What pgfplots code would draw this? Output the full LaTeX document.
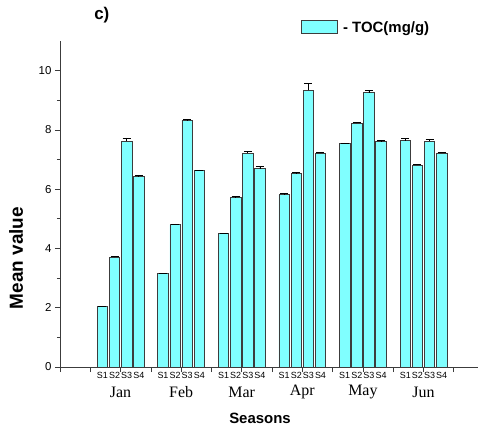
\documentclass[border=0pt]{standalone}
\usepackage{pgfplots}
\pgfplotsset{compat=1.18}
\usepackage{pgfplotstable}
\usepackage{fontspec}
\setmainfont{Liberation Sans}
\newfontfamily\timesf{Liberation Serif}
\definecolor{barcyan}{RGB}{128,255,255}
\definecolor{edgegray}{RGB}{60,60,60}

% x = month*5 + site, y = mean TOC, e = error
\pgfplotstableread{
x  y     e
0  2.03  0.03
1  3.70  0.04
2  7.61  0.12
3  6.42  0.03
5  3.15  0.02
6  4.80  0.03
7  8.33  0.02
8  6.62  0.03
10 4.50  0.02
11 5.72  0.03
12 7.22  0.05
13 6.69  0.09
15 5.81  0.04
16 6.52  0.04
17 9.33  0.25
18 7.22  0.03
20 7.53  0.03
21 8.22  0.03
22 9.26  0.07
23 7.61  0.03
25 7.64  0.08
26 6.81  0.03
27 7.61  0.06
28 7.22  0.03
}\toc

\begin{document}
\begin{tikzpicture}
\useasboundingbox (-60bp,-62bp) rectangle (420bp,367bp);
\begin{axis}[
  scale only axis,
  width=418bp, height=326bp,
  xmin=-3.5, xmax=31, ymin=0, ymax=11,
  axis lines=left,
  axis line style={-, edgegray, line width=0.8pt},
  tick style={edgegray, line width=0.7pt},
  tick align=outside,
  ytick={0,2,...,10},
  minor ytick={1,3,...,9},
  major tick length=5bp, minor tick length=3bp,
  xtick={0,1,2,3,5,6,7,8,10,11,12,13,15,16,17,18,20,21,22,23,25,26,27,28},
  xticklabels={S1,S2,S3,S4,S1,S2,S3,S4,S1,S2,S3,S4,S1,S2,S3,S4,S1,S2,S3,S4,S1,S2,S3,S4},
  xtick style={draw=none},
  xticklabel style={font=\fontsize{9}{9}\selectfont, anchor=center, yshift=-3bp},
  extra x ticks={-3.5,-1,...,29},
  extra x tick labels={,,Jan,,Feb,,Mar,,Apr,,May,,Jun,,},
  extra x tick style={xtick style={draw=edgegray},
    xticklabel style={font=\timesf\fontsize{16}{16}\selectfont, yshift=-17bp}},
  yticklabel style={font=\fontsize{11.5}{12}\selectfont},
  /pgf/number format/assume math mode=true,
  xlabel={\textbf{Seasons}},
  xlabel style={font=\fontsize{15}{15}\selectfont, at={(axis description cs:0.4785,-0.156)}, anchor=center},
  ylabel={\textbf{Mean value}},
  ylabel style={font=\fontsize{19}{19}\selectfont, at={(axis description cs:-0.105,0.334)}, anchor=center},
  title={\textbf{c)}},
  title style={font=\fontsize{17}{17}\selectfont, at={(axis description cs:0.1,1.061)}, anchor=center},
  legend style={at={(axis description cs:0.577,1.043)}, anchor=west, draw=none, fill=none,
    inner sep=0pt, font=\bfseries\fontsize{15}{15}\selectfont,
    nodes={inner sep=0pt, text depth=0pt}},
  legend image code/.code={\draw[fill=barcyan, draw=edgegray, line width=0.7pt] (0bp,-6.5bp) rectangle (36bp,6.5bp);},
  legend cell align=left,
]
\addplot[ybar, bar width=10.5bp, bar shift=0pt, fill=barcyan, draw=edgegray, line width=0.7pt,
  error bars/.cd, y dir=plus, y explicit,
  error bar style={black, line width=0.7pt},
  error mark options={black, rotate=90, mark size=4bp, line width=0.7pt}]
  table[x=x, y=y, y error=e] {\toc};
\addlegendentry{\hspace{5bp}- TOC(mg/g)}
\end{axis}
\end{tikzpicture}
\end{document}
